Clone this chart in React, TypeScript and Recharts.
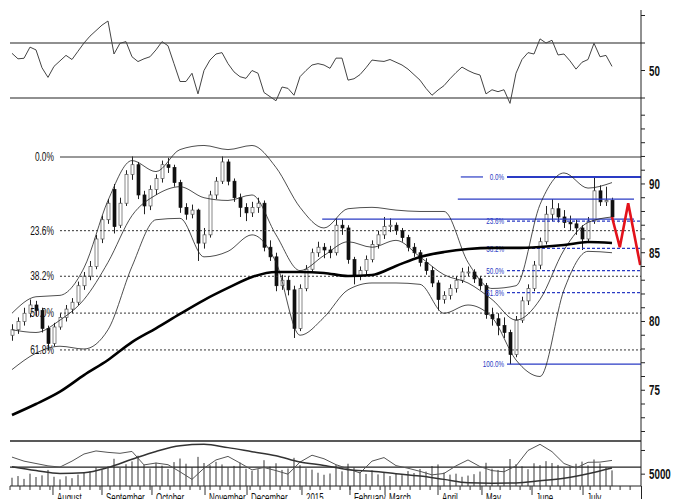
import React from 'react';
import { ComposedChart, LineChart, Line, Bar, XAxis, YAxis, ReferenceLine } from 'recharts';

// daily sessions, index 0 = late July 2014
const opens = [
  79.0, 79.4, 80.0, 80.6, 81.2, 80.8, 79.5, 78.4, 79.6, 80.3,
  80.9, 81.4, 82.6, 83.3, 84.0, 86.0, 87.4, 89.6, 87.0, 88.6,
  90.7, 91.4, 89.2, 88.4, 89.6, 90.4, 91.4, 91.2, 90.1, 88.3,
  87.8, 88.1, 85.7, 86.3, 89.2, 90.2, 91.6, 90.2, 89.0, 88.3,
  87.9, 88.3, 88.6, 85.4, 84.7, 82.6, 83.0, 82.3, 79.5, 82.4,
  83.8, 85.0, 85.4, 85.2, 85.0, 87.0, 86.8, 84.5, 83.3, 83.7,
  84.5, 85.6, 86.3, 86.9, 87.0, 86.6, 86.1, 85.4, 85.0, 84.3,
  83.7, 82.8, 81.6, 81.9, 82.4, 83.0, 83.6, 83.6, 83.1, 82.6,
  80.5, 80.2, 79.7, 79.2, 77.6, 80.1, 81.5, 82.4, 84.1, 85.8,
  87.8, 88.2, 87.6, 87.2, 87.1, 86.8, 86.0, 87.3, 89.5, 88.7, 88.8,
];
const highs = [
  79.8, 80.3, 81.0, 81.6, 81.5, 81.0, 79.7, 79.9, 80.6, 81.2,
  81.7, 82.9, 83.6, 84.4, 86.3, 87.7, 88.9, 90.0, 89.0, 91.0,
  92.0, 91.6, 89.5, 89.9, 90.7, 91.7, 91.9, 91.4, 90.3, 88.6,
  88.5, 88.2, 86.8, 89.5, 90.5, 92.0, 91.8, 90.4, 89.3, 88.6,
  88.7, 89.0, 88.8, 85.9, 85.0, 83.4, 83.3, 82.6, 82.7, 84.1,
  85.3, 85.8, 85.7, 85.5, 87.5, 87.4, 87.0, 84.7, 84.0, 84.8,
  85.9, 86.6, 87.6, 87.5, 87.2, 86.8, 86.3, 85.7, 85.2, 84.6,
  84.0, 83.0, 82.2, 82.7, 83.3, 83.9, 84.0, 83.8, 83.3, 82.8,
  81.0, 80.6, 80.3, 79.4, 80.4, 81.8, 82.7, 84.4, 86.1, 88.4,
  88.9, 88.6, 88.1, 87.7, 87.4, 87.0, 87.6, 90.5, 89.9, 89.8, 89.0,
];
const lows = [
  78.6, 79.1, 79.7, 80.3, 80.4, 79.2, 77.9, 78.2, 79.4, 80.0,
  80.6, 81.2, 82.3, 83.0, 83.8, 85.7, 87.1, 86.4, 86.8, 88.4,
  90.3, 88.9, 87.8, 88.1, 89.2, 90.1, 90.8, 89.8, 87.9, 87.4,
  87.5, 84.4, 85.3, 86.1, 88.9, 90.0, 89.9, 88.7, 87.6, 87.3,
  87.6, 87.9, 85.1, 84.4, 82.2, 82.3, 81.9, 78.8, 79.3, 82.2,
  83.6, 84.7, 84.6, 84.6, 84.8, 86.3, 84.2, 82.7, 83.0, 83.4,
  84.3, 85.3, 86.0, 86.5, 86.3, 85.8, 85.1, 84.7, 84.0, 83.4,
  82.5, 80.8, 81.3, 81.6, 82.1, 82.8, 83.3, 82.8, 82.3, 80.2,
  79.7, 79.0, 78.8, 76.9, 77.4, 79.9, 81.2, 82.2, 83.8, 85.6,
  87.3, 87.2, 86.8, 86.6, 86.3, 85.2, 85.7, 87.1, 88.4, 88.4, 87.3,
];
const closes = [
  79.4, 80.0, 80.6, 81.2, 80.8, 79.5, 78.4, 79.6, 80.3, 80.9,
  81.4, 82.6, 83.3, 84.0, 86.0, 87.4, 88.6, 86.9, 88.6, 90.7,
  91.4, 89.2, 88.4, 89.6, 90.4, 91.4, 91.2, 90.1, 88.3, 87.8,
  88.1, 85.7, 86.3, 89.2, 90.2, 91.6, 90.2, 89.0, 88.3, 87.9,
  88.3, 88.6, 85.4, 84.7, 82.6, 83.0, 82.3, 79.5, 82.4, 83.8,
  85.0, 85.4, 85.2, 85.0, 87.0, 86.8, 84.5, 83.3, 83.7, 84.5,
  85.6, 86.3, 86.9, 87.0, 86.6, 86.1, 85.4, 85.0, 84.3, 83.7,
  82.8, 81.6, 81.9, 82.4, 83.0, 83.6, 83.6, 83.1, 82.6, 80.5,
  80.2, 79.7, 79.2, 77.6, 80.1, 81.5, 82.4, 84.1, 85.8, 87.8,
  88.2, 87.6, 87.2, 87.1, 86.8, 86.0, 87.3, 89.5, 88.7, 88.8, 87.6,
];
const volumes = [
  3500, 4200, 3000, 5200, 3800, 4500, 6800, 3900, 2800, 4100, 3300,
  4800, 5600, 6200, 7800, 6900, 8200, 11500, 7600, 9200, 10400,
  12800, 8900, 7400, 9800, 8600, 7200, 10100, 11600, 9400, 7900,
  12300, 9700, 8800, 10200, 9100, 7800, 8500, 9900, 7300, 6400,
  7100, 10900, 8200, 9600, 6800, 7400, 11900, 8800, 7500, 6900,
  5600, 4800, 5300, 8900, 6200, 9400, 7800, 5900, 5100, 6600,
  4900, 5800, 4200, 5100, 4600, 6300, 5500, 7200, 6100, 8400,
  9100, 5700, 4800, 5200, 3900, 4400, 5000, 6100, 9800, 7300,
  6800, 7700, 11400, 9200, 8300, 7100, 9600, 8800, 10500, 9700,
  8900, 7600, 8200, 9400, 10300, 8700, 11200, 9500, 7800, 6600, 4100,
];
const rsiValues = [
  62.5, 58.5, 58.9, 67, 65, 52, 45, 53, 57, 61,
  58, 64, 70, 75, 79, 83, 86, 62, 69.8, 71,
  60, 56.5, 58.5, 60, 65, 71, 68, 55, 42, 42,
  48, 33, 50, 57.6, 62, 63, 55, 49, 45.5, 44.3,
  50, 48, 34, 31, 28, 38, 37, 32, 45.5, 50,
  54, 55, 54, 51.6, 59, 59, 43, 44, 47, 52,
  57.6, 57, 56.6, 58, 56, 54, 51, 47, 43, 37,
  32, 35.8, 39, 44, 48.5, 52.5, 50, 48, 46.7, 33,
  36, 34.6, 36, 26.1, 48, 58, 63, 62, 73, 70,
  72, 61.3, 62, 57, 51, 56, 58, 69.8, 60, 61, 53,
];

// smooth studies, one value every 4 sessions
const bbUpper = [80.6, 81.8, 81.9, 83.9, 88.8, 91.7, 90.9, 92.5, 92.8, 92.5, 92.8, 91.2, 88.3, 86.8, 88.2, 88.3, 88.1, 88.0, 88.0, 84.3, 82.4, 82.6, 88.5, 90.8, 89.7, 90.1];
const bbMiddle = [79.4, 79.2, 80.1, 81.6, 84.3, 87.7, 89.2, 89.8, 89.0, 88.8, 89.2, 86.3, 83.7, 84.8, 85.8, 85.4, 85.9, 84.7, 83.4, 82.8, 81.6, 80.1, 81.6, 85.2, 87.2, 87.6];
const bbLower = [76.5, 77.7, 78.2, 78.0, 79.4, 84.0, 87.4, 87.5, 84.7, 85.1, 86.3, 84.3, 79.0, 80.3, 82.3, 82.8, 82.8, 82.7, 80.6, 81.2, 80.3, 77.2, 76.0, 82.3, 85.1, 85.0];
const ma200 = [73.2, 74.0, 74.9, 76.1, 77.2, 78.5, 79.5, 80.55, 81.56, 82.44, 83.24, 83.6, 83.6, 83.53, 83.31, 83.38, 84.04, 84.69, 85.05, 85.27, 85.35, 85.35, 85.42, 85.56, 85.78, 85.71];
const volSlow = [8150, 6500, 5300, 5600, 7800, 11300, 14600, 17000, 17600, 16200, 14500, 12800, 10100, 8700, 6900, 6200, 5200, 4200, 2800, 1400, 1200, 1300, 2200, 3300, 5200, 7600];
// one value every 2 sessions
const volFast = [
  12200, 10500, 9500, 8500, 8000, 10500, 13500, 14800, 14200, 13800, 14600,
  8900, 9700, 9000, 6000, 2800, 7500, 11000, 12500, 9700, 6800,
  7800, 6500, 5000, 10100, 13000, 11500, 9000, 7300, 5500, 10500,
  12000, 8600, 7500, 6200, 4700, 5300, 8500, 11000, 8200, 6500,
  6000, 8500, 15000, 17600, 14500, 9500, 7600, 10000, 10100, 10800,
];

const projT = [100, 101.3, 102.7, 104.7];
const projPrice = [87.6, 85.4, 88.6, 84.1];

const fibRatios = [0, 0.236, 0.382, 0.5, 0.618];
const fibLabels = ['0.0%', '23.6%', '38.2%', '50.0%', '61.8%'];
const fibHigh = 91.96;
const fibLow = 69.26;
const blueRatios = [0, 0.236, 0.382, 0.5, 0.618, 1];
const blueLabels = ['0.0%', '23.6%', '38.2%', '50.0%', '61.8%', '100.0%'];
const blueHigh = 90.51;
const blueLow = 76.9;
const channelLevels = [88.9, 87.45];
const channelStart = [74.3, 51.7];

const monthLabels = ['August', 'September', 'October', 'November', 'December', '2015', 'February', 'March', 'April', 'May', 'June', 'July'];
const monthTicks = [6.83, 15, 23.33, 32.17, 39.17, 48.33, 56.33, 62.17, 71, 78.33, 86.67, 95.17];

const X_DOMAIN: [number, number] = [-0.333, 104.833];
const font = "'Liberation Sans Narrow', 'Liberation Sans', Arial, sans-serif";
const blue = '#2a3bc4';

const candles = closes.map((c, i) => ({ t: i, o: opens[i], h: highs[i], l: lows[i], c, v: volumes[i] }));
const rsiRows = rsiValues.map((r, i) => ({ t: i, r }));
const studyRows = bbUpper.map((u, k) => ({ t: k * 4, up: u, mid: bbMiddle[k], low: bbLower[k], ma: ma200[k], vs: volSlow[k] }));
const fastRows = volFast.map((v, k) => ({ t: k * 2, vf: v }));
const projRows = projT.map((t, k) => ({ t, p: projPrice[k] }));

const minorTicks = Array.from({ length: 63 }, (_, k) => Number((X_DOMAIN[0] + k * 1.667).toFixed(2)));
const xTicks = [...minorTicks, ...monthTicks].sort((a, b) => a - b);
const priceTicks = Array.from({ length: 24 }, (_, k) => 72 + k);

// condensed text: the narrow face is not always present, so squeeze horizontally
const Narrow = ({ x, y, sx = 0.72, size, anchor = 'start', color = '#111', bold = false, children }: any) => (
  <text transform={`translate(${x} ${y}) scale(${sx} 1)`} fontSize={size} fontFamily={font}
    fontWeight={bold ? 'bold' : 'normal'} fill={color} textAnchor={anchor}>
    {children}
  </text>
);

const Candle = (props: any) => {
  const { x, y, width, height, payload } = props;
  if (!payload || !height) return <g />;
  const { o, h, l, c } = payload;
  const ppu = height / (h - l);
  const cx = x + width / 2;
  const top = y + (h - Math.max(o, c)) * ppu;
  const bh = Math.max(1, Math.abs(o - c) * ppu);
  const down = c < o;
  return (
    <g>
      <line x1={cx} x2={cx} y1={y} y2={y + height} stroke="#222" strokeWidth={1} />
      <rect x={x} y={top} width={width} height={bh} fill={down ? '#111' : '#fff'} stroke={down ? '#111' : '#555'} strokeWidth={0.7} />
    </g>
  );
};

const rightTick = (labels: number[]) => (props: any) => {
  const { x, y, payload } = props;
  if (!labels.includes(payload.value)) return <g />;
  return <Narrow x={x + 2} y={y + 5} size={14} sx={0.7} bold>{payload.value}</Narrow>;
};

const TimeTick = (props: any) => {
  const { x, y, payload } = props;
  const m = monthTicks.indexOf(payload.value);
  return (
    <g>
      <line x1={x} x2={x} y1={y} y2={y + (m >= 0 ? 9 : 4)} stroke="#333" strokeWidth={1} />
      {m >= 0 && <Narrow x={x + 4} y={y + 16} size={12} sx={0.66}>{monthLabels[m]}</Narrow>}
    </g>
  );
};

const FibLabel = ({ viewBox, text, color, size, gap }: any) => {
  if (!viewBox) return null;
  return <Narrow x={viewBox.x - gap} y={viewBox.y + size * 0.35} size={size} sx={0.7} anchor="end" color={color}>{text}</Narrow>;
};

export default function App() {
  return (
    <div style={{ position: 'absolute', left: 0, top: 0, width: 674, height: 499, overflow: 'hidden', background: '#fff' }}>
      {/* RSI */}
      <div style={{ position: 'absolute', left: 0, top: 0 }}>
        <LineChart width={674} height={113} data={rsiRows} margin={{ top: 10, right: 0, bottom: 0, left: 10 }}>
          <XAxis type="number" dataKey="t" domain={X_DOMAIN} hide allowDataOverflow />
          <YAxis orientation="right" domain={[19.1, 94]} ticks={[30, 40, 50, 60, 70, 80, 90]} width={33} tickSize={4}
            axisLine={{ stroke: '#222' }} tickLine={{ stroke: '#222' }} tick={rightTick([50])} allowDataOverflow />
          <ReferenceLine y={70} stroke="#6b6b6b" strokeWidth={1.3} />
          <ReferenceLine y={30} stroke="#6b6b6b" strokeWidth={1.3} />
          <Line dataKey="r" type="linear" stroke="#444" strokeWidth={1} dot={false} isAnimationActive={false} />
        </LineChart>
      </div>

      {/* price */}
      <div style={{ position: 'absolute', left: 0, top: 108 }}>
        <ComposedChart width={674} height={338} data={candles} margin={{ top: 5, right: 0, bottom: 5, left: 10 }}>
          <XAxis type="number" dataKey="t" domain={X_DOMAIN} hide allowDataOverflow />
          <YAxis orientation="right" domain={[71.31, 95.16]} ticks={priceTicks} width={33} tickSize={4} interval={0}
            axisLine={{ stroke: '#222' }} tickLine={{ stroke: '#222' }} tick={rightTick([75, 80, 85, 90])} allowDataOverflow />
          {fibRatios.map((r, k) => {
            const v = fibHigh - (fibHigh - fibLow) * r;
            return (
              <ReferenceLine key={'f' + k} segment={[{ x: 8, y: v }, { x: X_DOMAIN[1], y: v }]} stroke="#333" strokeWidth={1}
                strokeDasharray={r === 0 ? undefined : '2 2'}
                label={<FibLabel text={fibLabels[k]} color="#111" size={12} gap={6} />} />
            );
          })}
          {channelLevels.map((v, k) => (
            <ReferenceLine key={'c' + k} segment={[{ x: channelStart[k], y: v }, { x: 103.67, y: v }]} stroke={blue} strokeWidth={1.2} />
          ))}
          <ReferenceLine segment={[{ x: 74.8, y: blueHigh }, { x: 78.5, y: blueHigh }]} stroke={blue} strokeWidth={1.2} />
          {blueRatios.map((r, k) => {
            const v = blueHigh - (blueHigh - blueLow) * r;
            const solid = r === 0 || r === 1;
            return (
              <ReferenceLine key={'b' + k} segment={[{ x: 82.5, y: v }, { x: X_DOMAIN[1], y: v }]} stroke={blue}
                strokeWidth={r === 0 ? 2 : 1.2} strokeDasharray={solid ? undefined : '3 2'}
                label={<FibLabel text={blueLabels[k]} color={blue} size={9} gap={3} />} />
            );
          })}
          <Line data={studyRows} dataKey="up" type="monotone" stroke="#222" strokeWidth={0.8} dot={false} isAnimationActive={false} />
          <Line data={studyRows} dataKey="mid" type="monotone" stroke="#222" strokeWidth={0.8} dot={false} isAnimationActive={false} />
          <Line data={studyRows} dataKey="low" type="monotone" stroke="#222" strokeWidth={0.8} dot={false} isAnimationActive={false} />
          <Bar dataKey={(d: any) => [d.l, d.h]} shape={Candle} barSize={3} isAnimationActive={false} />
          <Line data={studyRows} dataKey="ma" type="monotone" stroke="#000" strokeWidth={2.6} dot={false} isAnimationActive={false} />
          <Line data={projRows} dataKey="p" type="linear" stroke="#e3121b" strokeWidth={2.6} dot={false} isAnimationActive={false} />
        </ComposedChart>
      </div>

      {/* volume */}
      <div style={{ position: 'absolute', left: 0, top: 436 }}>
        <ComposedChart width={674} height={80} data={candles} margin={{ top: 5, right: 0, bottom: 0, left: 10 }}>
          <XAxis type="number" dataKey="t" domain={X_DOMAIN} ticks={xTicks} interval={0} height={30} tickSize={0} tickMargin={0}
            tickLine={false} axisLine={{ stroke: '#222' }} tick={<TimeTick />} allowDataOverflow />
          <YAxis orientation="right" domain={[0, 19000]} ticks={[5000, 10000, 15000]} width={33} tickSize={4}
            axisLine={{ stroke: '#222' }} tickLine={{ stroke: '#222' }} tick={rightTick([5000])} allowDataOverflow />
          <Bar dataKey="v" fill="#9a9a9a" barSize={2} isAnimationActive={false} />
          <ReferenceLine y={19000} stroke="#222" strokeWidth={1.3} />
          <ReferenceLine y={8000} stroke="#222" strokeWidth={1.3} />
          <Line data={fastRows} dataKey="vf" type="linear" stroke="#555" strokeWidth={1} dot={false} isAnimationActive={false} />
          <Line data={studyRows} dataKey="vs" type="monotone" stroke="#333" strokeWidth={1.5} dot={false} isAnimationActive={false} />
        </ComposedChart>
      </div>
      <div style={{ position: 'absolute', left: 641, top: 486, width: 1, height: 13, background: '#222' }} />
    </div>
  );
}
